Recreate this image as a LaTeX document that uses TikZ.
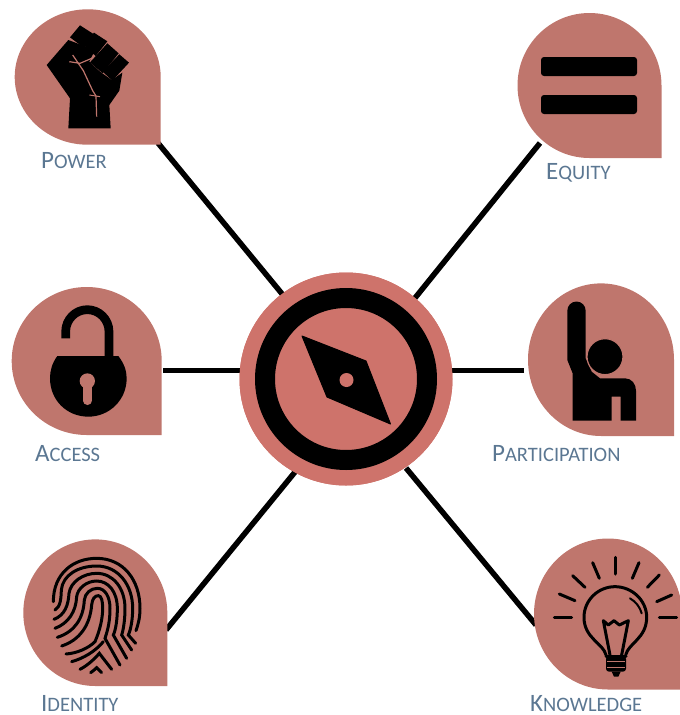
\documentclass[tikz,border=0pt]{standalone}
\usepackage{fontspec}
\setmainfont{Carlito}
\definecolor{drop}{HTML}{BF766D}
\definecolor{hubc}{HTML}{CE736B}
\definecolor{labc}{HTML}{5B7792}
\tikzset{
  x=1pt,y=-1pt,
  teardrop/.style={fill=drop,draw=none},
  spoke/.style={draw=black,line width=5.5pt},
  hubnode/.style={circle,fill=hubc,minimum size=213pt,inner sep=0pt,draw=none},
  lab/.style={text=labc,anchor=base west,inner sep=0pt,font=\fontsize{25}{27}\selectfont},
  zoomed/.style={x=0.33333pt,y=-0.33333pt},
  ridge/.style={draw=black,line width=3pt,line cap=round,fill=none},
  bulbline/.style={draw=black,line width=3pt,line cap=round,line join=round,fill=none}
}
\newcommand{\sm}[1]{{\fontsize{20.5}{27}\selectfont #1}}
\newcommand{\drop}[5]{% cx cy rx ry name
  \fill[teardrop] (#1+#3,#2) arc[start angle=0,end angle=270,x radius=#3,y radius=-#4] -- (#1+#3,#2+#4) -- cycle;
}
\begin{document}
\begin{tikzpicture}
\useasboundingbox (0,0) rectangle (680,715);
% hub
\node[hubnode] (hub) at (346,379) {};
% connector ends
\coordinate (powerEnd) at (158,143);
\coordinate (equityEnd) at (540,143);
\coordinate (accessEnd) at (163,370.5);
\coordinate (partEnd) at (524,370.5);
\coordinate (identEnd) at (166,630);
\coordinate (knowEnd) at (536,625);
\coordinate (hubA) at (283,295);
\coordinate (hubB) at (415,298);
\coordinate (hubC) at (245,370.5);
\coordinate (hubD) at (448,370.5);
\coordinate (hubE) at (295,472);
\coordinate (hubF) at (406,468);
\draw[spoke] (powerEnd) -- (hubA);
\draw[spoke] (equityEnd) -- (hubB);
\draw[spoke] (accessEnd) -- (hubC);
\draw[spoke] (partEnd) -- (hubD);
\draw[spoke] (identEnd) -- (hubE);
\draw[spoke] (knowEnd) -- (hubF);
\node[hubnode] at (hub) {};
\fill[even odd rule] (hub) circle[radius=91] (hub) circle[radius=71];
\fill[line join=round,draw=black,line width=1pt] (302,336) -- (366,361) -- (390.5,424) -- (327,397) -- cycle;
\fill[hubc] (346.5,380) circle[radius=7];
% teardrops
\drop{87.7}{77}{73}{67.7}{a}
\drop{589.5}{85.5}{72}{72.5}{b}
\drop{86.7}{361}{75}{74}{c}
\drop{601}{359.7}{73}{76.3}{d}
\drop{95.3}{612.7}{72}{73.3}{e}
\drop{608}{614}{74}{75.5}{f}
% labels
\node[lab] (lpower) at (41,168.5) {P\sm{OWER}};
\node[lab] (lequity) at (546,179.5) {E\sm{QUITY}};
\node[lab] (laccess) at (35,461) {A\sm{CCESS}};
\node[lab] (lpart) at (492,461) {P\sm{ARTICIPATION}};
\node[lab] (lident) at (41,711.5) {I\sm{DENTITY}};
\node[lab] (lknow) at (530,711.5) {K\sm{NOWLEDGE}};
% fist
\begin{scope}[shift={(0pt,0pt)},zoomed]
\fill (240,76) -- (282,103) -- (250,142) -- (210,112) -- cycle;
\fill (282,98) -- (322,124) -- (287,168) -- (250,135) -- cycle;
\fill (322,130) -- (356,160) -- (308,220) -- (270,187) -- cycle;
\fill (358,163) -- (387,188) -- (337,242) -- (308,215) -- cycle;
\fill (205,385) -- (332,385) -- (328,315) -- (358,272) -- (367,218) -- (335,240) -- (300,215) -- (268,185) -- (285,150) -- (205,120) -- (140,195) -- (210,295) -- cycle;
\draw[drop,line width=1.2pt,line join=round] (208,185) -- (240,190) -- (282,172);
\draw[drop,line width=1.2pt,line join=round] (218,165) -- (250,212) -- (278,272) -- (288,288) -- (290,350);
\draw[drop,line width=1pt] (268,285) -- (300,290);
\end{scope}
% equals
\fill[rounded corners=3pt] (541,57) rectangle (637,76);
\fill[rounded corners=3pt] (541,95) rectangle (637,114);
% lock
\begin{scope}[shift={(0pt,-280pt)},zoomed]
\draw[line width=8.7pt] (327,235) -- (327,155) arc[start angle=0,end angle=180,x radius=65,y radius=-66] -- (197,175);
\fill (172,228) -- (355,228) .. controls (372,250) and (380,272) .. (380,295) .. controls (380,360) and (328,410) .. (265,410) .. controls (200,410) and (150,360) .. (150,295) .. controls (150,272) and (156,250) .. (172,228) -- cycle;
\fill[drop] (262,303) circle[radius=23];
\draw[drop,line width=8.7pt,line cap=round] (262,310) -- (262,362);
\end{scope}
% person
\begin{scope}[shift={(490pt,-280pt)},zoomed]
\fill (232,92) arc[start angle=180,end angle=0,radius=27.5,y radius=-27.5] -- (287,235) -- (305,275) -- (330,295) -- (405,295) .. controls (425,295) and (438,312) .. (438,332) -- (438,422) -- (392,422) -- (392,350) -- (380,350) -- (365,350) -- (365,422) -- (248,422) -- (248,280) -- (232,240) -- cycle;
\draw[fill=black,draw=drop,line width=1.2pt] (345,230) circle[radius=54];
\end{scope}
% fingerprint
\begin{scope}[shift={(0pt,-530pt)},zoomed]
\draw[ridge] (160,215) .. controls (160,130) and (220,85) .. (290,85) .. controls (370,85) and (420,150) .. (420,235) .. controls (420,262) and (415,282) .. (408,302);
\draw[ridge] (165,240) .. controls (182,230) and (183,205) .. (184,180) .. controls (188,135) and (235,108) .. (290,108) .. controls (355,108) and (398,165) .. (398,235) .. controls (398,270) and (392,300) .. (385,315) -- (407,340);
\draw[ridge] (162,268) .. controls (195,255) and (205,225) .. (207,190) .. controls (212,155) and (250,130) .. (290,130) .. controls (340,130) and (375,175) .. (375,235) .. controls (375,270) and (370,300) .. (365,315) -- (395,360);
\draw[ridge] (165,295) .. controls (205,280) and (228,245) .. (230,200) .. controls (233,175) and (260,153) .. (290,153) .. controls (325,153) and (352,185) .. (352,235) .. controls (352,270) and (347,300) .. (340,315) -- (380,385);
\draw[ridge] (172,322) .. controls (225,305) and (250,265) .. (253,210) .. controls (255,190) and (272,175) .. (292,175) .. controls (315,175) and (330,200) .. (330,235) .. controls (330,270) and (325,295) .. (315,325) -- (360,405);
\draw[ridge] (185,348) .. controls (240,330) and (270,285) .. (275,225) .. controls (277,205) and (285,197) .. (295,197) .. controls (305,197) and (308,215) .. (308,235) .. controls (308,265) and (300,300) .. (285,335) .. controls (265,355) and (230,370) .. (198,372);
\draw[ridge] (215,395) .. controls (250,385) and (285,365) .. (310,335);
\draw[ridge] (240,418) .. controls (265,405) and (285,385) .. (298,370) -- (335,418);
\draw[ridge] (272,428) .. controls (280,422) and (285,418) .. (290,413) -- (305,428);
\end{scope}
% bulb
\begin{scope}[shift={(500pt,-530pt)},zoomed]
\draw[bulbline] (163,263) -- (215,263);
\draw[bulbline] (178,192) -- (225,212);
\draw[bulbline] (218,137) -- (255,172);
\draw[bulbline] (278,98) -- (298,145);
\draw[bulbline] (347,82) -- (347,132);
\draw[bulbline] (417,98) -- (397,145);
\draw[bulbline] (478,135) -- (442,172);
\draw[bulbline] (515,195) -- (470,215);
\draw[bulbline] (478,263) -- (530,263);
\draw[bulbline] (318,375) .. controls (310,340) and (252,325) .. (252,262) .. controls (252,210) and (295,170) .. (345,170) .. controls (395,170) and (440,210) .. (440,262) .. controls (440,325) and (385,340) .. (377,375);
\draw[bulbline] (330,375) -- (310,272) -- (325,285) -- (342,272) -- (358,285) -- (385,272) -- (365,375);
\draw[bulbline] (318,378) -- (378,378);
\draw[bulbline,line width=2pt] (390,205) .. controls (408,215) and (420,232) .. (425,250);
\fill[rounded corners=3pt] (318,378) rectangle (378,425);
\fill (335,425) -- (362,425) -- (355,440) -- (342,440) -- cycle;
\draw[drop,line width=1pt] (322,395) -- (374,395);
\draw[drop,line width=1pt] (322,412) -- (374,412);
\end{scope}
\end{tikzpicture}
\end{document}
